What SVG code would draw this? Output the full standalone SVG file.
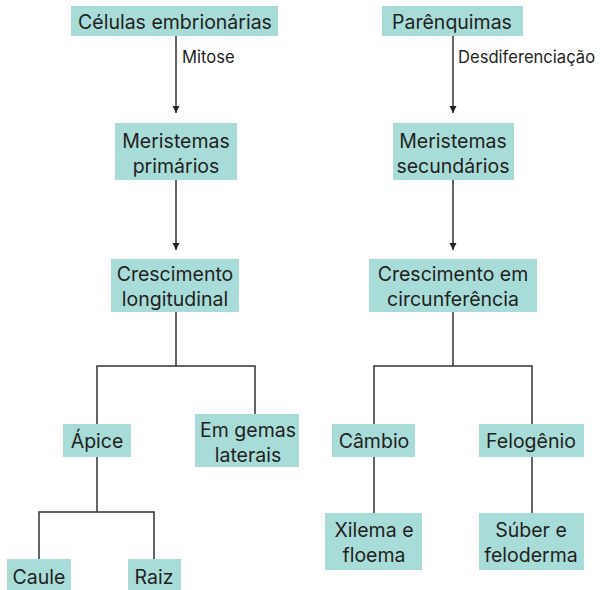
<svg xmlns="http://www.w3.org/2000/svg" width="602" height="590" viewBox="0 0 602 590">
<style>
.box{fill:#a8dcd9}
.t{font-family:Inter,"Open Sans","Liberation Sans",Arial,sans-serif;font-size:19.5px;fill:#231f20;text-anchor:middle}
.l{font-family:Inter,"Open Sans","Liberation Sans",Arial,sans-serif;font-size:16.6px;fill:#231f20}
.c{stroke:#333;stroke-width:1.5;fill:none}
</style>
<defs>
<marker id="ah" viewBox="0 0 10 10" refX="10" refY="5" markerWidth="7" markerHeight="10" markerUnits="userSpaceOnUse" orient="auto">
<path d="M0,0 L10,5 L0,10 z" fill="#222"/>
</marker>
</defs>
<rect width="602" height="590" fill="#fff"/>
<g id="connectors">
<line class="c" x1="176" y1="36" x2="176" y2="113" marker-end="url(#ah)"/>
<line class="c" x1="176" y1="180" x2="176" y2="250" marker-end="url(#ah)"/>
<path class="c" d="M176,312 V366 M97,424 V366 H255 V414"/>
<path class="c" d="M97,457 V512 M39,559 V512 H154 V559"/>
<line class="c" x1="453" y1="36" x2="453" y2="113" marker-end="url(#ah)"/>
<line class="c" x1="453" y1="180" x2="453" y2="250" marker-end="url(#ah)"/>
<path class="c" d="M453,312 V366 M374,513 V366 H532 V513"/>
<text class="l" x="182" y="63">Mitose</text>
<text class="l" x="458" y="63">Desdiferenciação</text>
</g>
<g id="celulas"><rect class="box" x="71" y="6" width="207" height="30"/><text class="t" x="175" y="29">Células embrionárias</text></g>
<g id="merprim"><rect class="box" x="115" y="123" width="122" height="57"/><text class="t" x="176" y="147.5">Meristemas</text><text class="t" x="176" y="172.5">primários</text></g>
<g id="cresclong"><rect class="box" x="111" y="259" width="128" height="53"/><text class="t" x="175" y="281">Crescimento</text><text class="t" x="175" y="306">longitudinal</text></g>
<g id="apice"><rect class="box" x="63" y="424" width="68" height="33"/><text class="t" x="97" y="448">Ápice</text></g>
<g id="gemas"><rect class="box" x="195" y="414" width="104" height="53"/><text class="t" x="248" y="436.5">Em gemas</text><text class="t" x="248" y="461.5">laterais</text></g>
<g id="caule"><rect class="box" x="7" y="559" width="64" height="31"/><text class="t" x="39" y="584">Caule</text></g>
<g id="raiz"><rect class="box" x="128" y="559" width="53" height="31"/><text class="t" x="154" y="584">Raiz</text></g>
<g id="parenq"><rect class="box" x="382" y="6" width="141" height="30"/><text class="t" x="452" y="29">Parênquimas</text></g>
<g id="mersec"><rect class="box" x="393" y="123" width="121" height="57"/><text class="t" x="453" y="147.5">Meristemas</text><text class="t" x="453" y="172.5">secundários</text></g>
<g id="crescirc"><rect class="box" x="369" y="259" width="168" height="53"/><text class="t" x="453" y="281">Crescimento em</text><text class="t" x="453" y="306">circunferência</text></g>
<g id="cambio"><rect class="box" x="332" y="424" width="83" height="33"/><text class="t" x="374" y="448">Câmbio</text></g>
<g id="felog"><rect class="box" x="479" y="424" width="105" height="33"/><text class="t" x="531" y="448">Felogênio</text></g>
<g id="xilema"><rect class="box" x="325" y="513" width="97" height="57"/><text class="t" x="374" y="537">Xilema e</text><text class="t" x="374" y="562">floema</text></g>
<g id="suber"><rect class="box" x="479" y="513" width="105" height="57"/><text class="t" x="531" y="537">Súber e</text><text class="t" x="531" y="562">feloderma</text></g>
</svg>
